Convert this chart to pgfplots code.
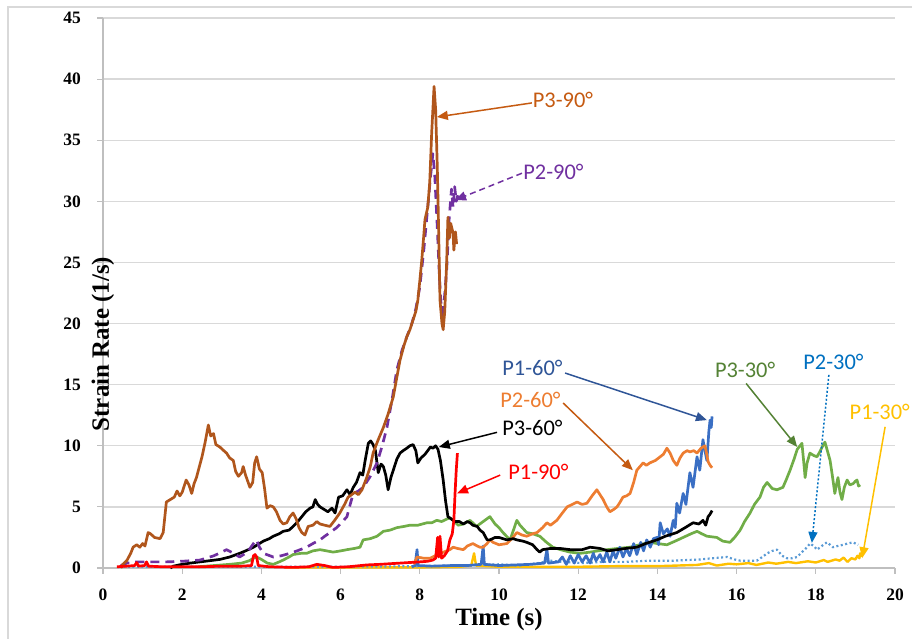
\documentclass[border=0pt]{standalone}
\usepackage{pgfplots}
\pgfplotsset{compat=1.18}
\usepackage{fontspec}
\setmainfont{Liberation Serif}
\newfontfamily\annfont{Carlito}
\usetikzlibrary{arrows.meta}
\definecolor{gridgray}{HTML}{D9D9D9}
\definecolor{axisgray}{HTML}{BFBFBF}
\definecolor{cbrown}{HTML}{B0561C}
\definecolor{cbrownt}{HTML}{C55A11}
\definecolor{cpurple}{HTML}{7030A0}
\definecolor{corange}{HTML}{ED7D31}
\definecolor{cblue}{HTML}{3A6FC4}
\definecolor{cbluet}{HTML}{2F5597}
\definecolor{cred}{HTML}{FF0000}
\definecolor{cgreen}{HTML}{70AD47}
\definecolor{cgreent}{HTML}{548235}
\definecolor{clblue}{HTML}{5B9BD5}
\definecolor{cblue2}{HTML}{0070C0}
\definecolor{cgold}{HTML}{FFC000}
\begin{document}
\begin{tikzpicture}[x=1bp,y=1bp]
\useasboundingbox (0,0) rectangle (912,639);
\draw[gridgray, line width=1.2bp] (8,-20) rectangle (940,632);
\begin{axis}[
  at={(103bp,71bp)}, anchor=south west,
  scale only axis, width=792bp, height=550bp,
  xmin=0, xmax=20, ymin=0, ymax=45,
  xtick={0,2,...,20}, ytick={0,5,...,45},
  axis x line*=bottom, axis y line*=left,
  axis line style={draw=axisgray, line width=1.3bp},
  ymajorgrids, grid style={draw=gridgray, line width=1.3bp},
  tick align=outside, major tick length=6bp,
  tick style={draw=axisgray, line width=1.2bp},
  /pgf/number format/assume math mode=true,
  ticklabel style={font=\bfseries\fontsize{17.5}{17.5}\selectfont, inner sep=0pt},
  xticklabel style={anchor=north, yshift=-15bp},
  yticklabel style={anchor=east, xshift=-16bp},
  xlabel={Time (s)}, ylabel={Strain Rate (1/s)},
  label style={font=\bfseries\fontsize{25}{25}\selectfont, inner sep=0pt},
  xlabel style={at={(axis description cs:0.5,0)}, anchor=center, yshift=-52bp},
  ylabel style={at={(axis description cs:0,0.5)}, anchor=center, rotate=0, xshift=-51bp},
  clip=false,
  every axis plot/.append style={line width=2.7bp, line join=round, mark=none},
]
% P1-30 (gold)
\addplot[cgold, line width=2.4bp] coordinates {(4.6,0.05) (6,0.05) (8,0.05) (9.0,0.1) (9.3,0.2) (9.37,1.2) (9.42,0.2) (10,0.1) (11,0.1) (12,0.1) (13,0.15) (14,0.15) (14.5,0.2) (15.0,0.25) (15.3,0.4) (15.5,0.2) (15.8,0.35) (16,0.3) (16.3,0.4) (16.5,0.25) (16.8,0.45) (17,0.35) (17.3,0.5) (17.5,0.4) (17.8,0.55) (18,0.45) (18.2,0.65) (18.3,0.5) (18.5,0.7) (18.6,0.6) (18.7,0.85) (18.8,0.5) (18.9,0.8) (19.0,0.7) (19.05,1.0) (19.1,0.8) (19.12,1.2) (19.15,0.9)};
% P2-30 (dotted light blue)
\addplot[clblue, line width=2.2bp, dash pattern=on 2bp off 2.5bp] coordinates {(0.4,0.1) (2,0.1) (4,0.1) (6,0.1) (8,0.15) (9,0.2) (10,0.3) (10.5,0.2) (11,0.4) (11.29,0.6) (11.6,0.5) (12.1,0.4) (12.6,0.5) (13.2,0.5) (13.81,0.6) (14.4,0.6) (15.08,0.7) (15.4,0.8) (15.76,0.9) (15.95,0.7) (16.09,0.6) (16.51,0.6) (16.65,0.9) (16.77,1.2) (16.9,1.4) (17.02,1.5) (17.15,1.0) (17.27,0.8) (17.4,0.8) (17.53,0.9) (17.65,1.3) (17.78,1.7) (17.85,2.0) (17.95,1.8) (18.03,1.5) (18.15,1.8) (18.28,2.1) (18.36,1.9) (18.43,1.7) (18.55,1.8) (18.69,1.9) (18.8,2.0) (18.94,2.1) (19.0,2.0) (19.07,1.9)};
% P3-30 (green)
\addplot[cgreen] coordinates {(2.4,0.1) (2.8,0.2) (3.2,0.3) (3.5,0.4) (3.7,0.6) (3.8,0.8) (3.88,0.9) (4.0,0.7) (4.15,0.4) (4.3,0.3) (4.45,0.5) (4.55,0.65) (4.7,0.9) (4.8,1.1) (5.0,1.2) (5.14,1.2) (5.3,1.4) (5.48,1.5) (5.65,1.4) (5.81,1.3) (6.0,1.4) (6.16,1.5) (6.35,1.6) (6.49,1.7) (6.57,2.3) (6.75,2.4) (6.92,2.6) (7.08,3.0) (7.25,3.1) (7.42,3.3) (7.6,3.4) (7.75,3.5) (7.95,3.5) (8.18,3.7) (8.3,3.7) (8.43,3.9) (8.55,3.8) (8.68,4.0) (8.76,4.1) (8.84,3.9) (8.97,3.5) (9.1,3.6) (9.27,3.9) (9.43,3.4) (9.6,3.8) (9.77,4.2) (9.9,3.6) (10.0,3.3) (10.1,2.9) (10.28,2.3) (10.45,3.9) (10.53,3.5) (10.7,2.9) (10.85,2.8) (11.03,2.6) (11.2,2.1) (11.36,1.7) (11.55,1.5) (11.79,1.3) (12.05,1.2) (12.3,1.3) (12.5,1.4) (12.73,1.5) (13.0,1.6) (13.31,1.7) (13.55,1.9) (13.81,2.1) (14.0,2.0) (14.24,1.9) (14.45,2.2) (14.65,2.5) (14.85,2.8) (15.0,3.0) (15.12,2.8) (15.25,2.6) (15.5,2.5) (15.65,2.2) (15.83,2.1) (15.95,2.5) (16.09,3.1) (16.2,3.8) (16.34,4.5) (16.45,5.2) (16.59,5.8) (16.68,6.6) (16.77,7.0) (16.9,6.5) (17.02,6.4) (17.17,6.6) (17.25,7.2) (17.35,8.0) (17.45,8.9) (17.53,9.7) (17.6,10.0) (17.65,10.2) (17.7,8.5) (17.73,7.4) (17.78,8.6) (17.85,9.4) (17.95,9.2) (18.03,9.1) (18.1,9.5) (18.16,9.9) (18.23,10.3) (18.3,9.5) (18.36,8.8) (18.42,7.5) (18.48,6.1) (18.52,6.8) (18.56,7.4) (18.61,6.2) (18.66,5.6) (18.72,6.6) (18.79,7.2) (18.86,6.8) (18.94,6.9) (19.0,7.1) (19.04,7.2) (19.08,6.7) (19.12,6.8)};
% P1-60 (blue)
\addplot[cblue] coordinates {(7.8,0.1) (7.88,0.2) (7.93,1.5) (7.96,0.2) (8.3,0.15) (8.8,0.2) (9.2,0.2) (9.55,0.3) (9.6,1.8) (9.63,0.3) (10.0,0.2) (10.4,0.25) (10.8,0.3) (11.15,0.4) (11.21,1.5) (11.25,0.4) (11.5,0.5) (11.6,0.9) (11.7,0.3) (11.8,1.0) (11.9,0.4) (12.0,1.1) (12.1,0.5) (12.2,1.0) (12.3,0.4) (12.38,1.2) (12.45,0.6) (12.55,1.1) (12.63,0.5) (12.72,1.3) (12.8,0.5) (12.88,1.4) (12.95,0.8) (13.05,1.7) (13.13,0.9) (13.22,1.6) (13.3,1.0) (13.4,2.0) (13.48,1.1) (13.58,2.1) (13.65,1.4) (13.73,2.3) (13.82,1.7) (13.9,2.4) (13.99,2.5) (14.03,1.9) (14.07,3.7) (14.15,2.8) (14.25,3.2) (14.32,2.6) (14.4,3.9) (14.45,3.3) (14.49,5.3) (14.56,4.5) (14.65,6.1) (14.72,5.2) (14.82,7.8) (14.9,6.6) (15.0,9.1) (15.07,8.0) (15.15,10.5) (15.2,9.6) (15.25,8.8) (15.3,11.2) (15.33,12.1) (15.36,11.5) (15.38,12.4)};
% P2-60 (orange)
\addplot[corange] coordinates {(7.85,0.3) (7.93,0.9) (8.1,0.8) (8.26,0.8) (8.45,1.1) (8.6,1.3) (8.76,1.5) (8.84,1.7) (8.95,1.6) (9.1,1.5) (9.2,1.8) (9.34,2.0) (9.45,1.8) (9.52,1.7) (9.6,1.7) (9.7,2.0) (9.77,2.3) (9.85,2.1) (10.0,1.9) (10.2,2.0) (10.35,2.5) (10.45,2.9) (10.58,2.7) (10.7,2.6) (10.85,2.8) (10.96,2.9) (11.1,3.3) (11.21,3.7) (11.3,3.5) (11.46,3.9) (11.6,4.5) (11.72,5.0) (11.85,5.2) (11.97,5.4) (12.1,5.2) (12.22,5.3) (12.35,5.9) (12.47,6.4) (12.55,6.0) (12.63,5.6) (12.72,5.0) (12.8,4.6) (12.9,4.8) (12.98,5.0) (13.06,5.4) (13.13,5.8) (13.22,5.9) (13.31,6.1) (13.4,7.0) (13.48,8.0) (13.56,8.3) (13.64,8.6) (13.72,8.4) (13.81,8.6) (13.95,8.8) (14.07,9.1) (14.15,9.3) (14.24,9.8) (14.32,9.4) (14.4,8.8) (14.49,8.4) (14.57,9.0) (14.65,9.4) (14.75,9.6) (14.82,9.5) (14.92,9.6) (15.0,9.4) (15.1,9.8) (15.2,10.0) (15.24,9.4) (15.28,8.7) (15.33,8.4) (15.38,8.2)};
% P3-60 (black)
\addplot[black] coordinates {(1.7,0) (1.77,0.15) (2.0,0.3) (2.2,0.4) (2.45,0.5) (2.7,0.6) (2.95,0.7) (3.2,0.9) (3.45,1.2) (3.6,1.4) (3.8,1.7) (3.95,2.0) (4.05,2.2) (4.2,2.4) (4.3,2.6) (4.45,2.8) (4.55,3.0) (4.7,3.1) (4.8,3.4) (4.92,3.8) (5.02,4.2) (5.12,4.6) (5.23,4.9) (5.3,5.0) (5.36,5.6) (5.42,5.2) (5.48,5.0) (5.58,4.8) (5.68,4.6) (5.78,4.9) (5.86,4.5) (5.95,5.8) (6.05,5.9) (6.16,6.4) (6.24,6.0) (6.32,6.6) (6.4,7.0) (6.49,7.8) (6.56,7.6) (6.62,8.8) (6.7,10.2) (6.76,10.4) (6.82,10.1) (6.88,9.6) (6.95,7.8) (7.02,8.5) (7.08,8.3) (7.14,7.6) (7.2,6.4) (7.27,7.4) (7.33,8.0) (7.42,8.9) (7.5,9.4) (7.58,9.6) (7.67,9.8) (7.75,10.0) (7.83,10.1) (7.9,9.6) (7.95,8.6) (8.03,9.0) (8.13,9.3) (8.2,9.6) (8.27,9.9) (8.33,9.8) (8.4,10.0) (8.46,9.7) (8.52,8.8) (8.59,7.2) (8.65,5.5) (8.71,4.2) (8.8,4.0) (8.89,3.8) (9.0,3.8) (9.1,3.6) (9.2,3.8) (9.27,3.7) (9.34,3.5) (9.45,3.4) (9.52,3.1) (9.6,2.9) (9.7,2.3) (9.77,2.3) (9.9,2.5) (10.0,2.5) (10.2,2.3) (10.36,2.4) (10.45,2.3) (10.6,2.2) (10.7,2.1) (10.85,1.9) (10.96,1.5) (11.03,1.3) (11.1,1.5) (11.3,1.6) (11.54,1.6) (11.8,1.5) (12.1,1.5) (12.3,1.7) (12.55,1.6) (12.75,1.4) (12.98,1.5) (13.2,1.6) (13.48,1.7) (13.7,2.0) (13.99,2.3) (14.2,2.6) (14.49,2.9) (14.7,3.3) (14.9,3.7) (15.05,3.6) (15.15,3.9) (15.22,3.5) (15.28,4.2) (15.33,4.4) (15.38,4.7)};
% P2-90 (purple dashed)
\addplot[cpurple, dash pattern=on 9bp off 6bp] coordinates {(0.45,0.2) (0.6,0.4) (0.85,0.5) (1.2,0.5) (1.6,0.5) (2.0,0.55) (2.45,0.65) (2.8,1.0) (3.12,1.5) (3.3,1.2) (3.45,0.9) (3.65,1.3) (3.8,2.0) (3.88,2.3) (3.95,1.7) (4.05,1.2) (4.3,0.9) (4.5,1.0) (4.72,1.2) (4.9,1.4) (5.14,1.7) (5.3,2.0) (5.48,2.3) (5.6,2.6) (5.73,2.9) (5.9,3.3) (6.05,3.8) (6.16,4.2) (6.25,5.3) (6.32,6.1) (6.45,6.3) (6.57,6.6) (6.75,7.5) (6.92,8.6) (7.05,10.0) (7.17,11.5) (7.3,13.8) (7.42,16.2) (7.55,17.8) (7.67,18.9) (7.8,20.0) (7.9,21.2) (8.0,23.0) (8.1,26.0) (8.2,29.5) (8.27,32.0) (8.33,33.9) (8.38,32.0) (8.44,28.0) (8.5,23.5) (8.56,20.3) (8.62,22.0) (8.68,24.5) (8.74,28.5) (8.8,31.0) (8.84,29.5) (8.88,31.2) (8.92,30.0) (8.96,30.5)};
% P3-90 (brown)
\addplot[cbrown] coordinates {(0.45,0) (0.5,0.3) (0.6,0.6) (0.7,1.2) (0.76,1.7) (0.85,1.9) (0.93,1.7) (1.0,2.0) (1.06,1.8) (1.14,2.9) (1.2,2.8) (1.3,2.5) (1.44,2.4) (1.52,2.9) (1.6,5.4) (1.7,5.6) (1.8,5.8) (1.87,6.3) (1.94,5.9) (2.0,6.2) (2.1,7.2) (2.17,6.8) (2.24,6.1) (2.3,6.9) (2.36,7.4) (2.45,8.5) (2.5,9.1) (2.58,10.3) (2.66,11.7) (2.72,10.8) (2.79,11.0) (2.85,10.1) (2.95,9.9) (3.05,9.6) (3.12,9.4) (3.2,9.0) (3.29,8.8) (3.35,7.9) (3.42,7.5) (3.5,7.8) (3.54,8.3) (3.6,7.6) (3.71,6.6) (3.78,7.0) (3.83,8.6) (3.88,9.1) (3.95,8.1) (4.02,7.8) (4.08,6.5) (4.14,4.9) (4.22,5.1) (4.3,5.0) (4.38,4.6) (4.47,3.9) (4.55,3.6) (4.64,3.7) (4.72,4.2) (4.8,4.5) (4.88,4.0) (4.95,3.3) (5.02,2.9) (5.1,2.7) (5.18,3.4) (5.3,3.5) (5.4,3.8) (5.48,3.6) (5.6,3.5) (5.73,3.4) (5.85,3.9) (5.98,4.5) (6.1,5.2) (6.19,5.8) (6.28,6.0) (6.36,6.2) (6.45,6.0) (6.54,6.4) (6.66,7.4) (6.75,8.3) (6.82,9.4) (6.95,10.5) (7.08,11.5) (7.2,12.6) (7.33,14.0) (7.42,15.6) (7.5,17.0) (7.6,18.2) (7.67,18.9) (7.75,19.5) (7.83,20.3) (7.9,21.0) (7.95,21.9) (8.0,23.5) (8.05,25.2) (8.1,27.2) (8.13,28.5) (8.2,29.5) (8.25,31.5) (8.3,35.6) (8.36,39.4) (8.4,37.5) (8.44,33.0) (8.46,30.1) (8.51,21.9) (8.56,20.0) (8.59,19.5) (8.63,21.0) (8.66,23.5) (8.68,25.2) (8.71,28.7) (8.75,27.0) (8.78,28.2) (8.84,27.4) (8.86,26.0) (8.9,27.5) (8.93,26.5)};
% P1-90 (red)
\addplot[cred] coordinates {(0.35,0.1) (0.6,0.15) (0.8,0.2) (0.85,0.45) (0.9,0.15) (1.05,0.2) (1.1,0.5) (1.15,0.15) (1.5,0.1) (2.0,0.1) (2.5,0.1) (3.0,0.15) (3.5,0.15) (3.75,0.2) (3.8,1.0) (3.84,1.1) (3.88,0.9) (3.92,0.2) (4.2,0.1) (4.8,0.05) (5.2,0.1) (5.4,0.3) (5.6,0.2) (5.8,0.05) (6.2,0.1) (6.66,0.25) (7.0,0.3) (7.5,0.4) (8.0,0.5) (8.2,0.55) (8.33,0.65) (8.4,0.8) (8.45,2.5) (8.48,0.9) (8.51,2.6) (8.55,0.8) (8.62,1.0) (8.7,1.4) (8.76,2.3) (8.82,2.8) (8.86,3.9) (8.89,6.1) (8.92,8.0) (8.95,9.4)};
% annotations
\tikzset{ann/.style={line width=1.5bp, -{Triangle[length=11bp,width=9bp]}}, lab/.style={anchor=west, inner sep=0pt, font=\annfont\fontsize{22.5}{22.5}\selectfont}}
\draw[ann, cbrownt] (axis cs:10.83,38.05) -- (axis cs:8.43,36.9);
\node[lab, cbrownt] at (axis cs:10.85,38.3) {P3-90°};
\draw[ann, cpurple, dash pattern=on 6bp off 4bp] (axis cs:10.58,32.3) -- (axis cs:8.89,30.1);
\node[lab, cpurple] at (axis cs:10.61,32.4) {P2-90°};
\draw[ann, cbluet] (axis cs:11.67,15.95) -- (axis cs:15.25,12.1);
\node[lab, cbluet] at (axis cs:10.08,16.4) {P1-60°};
\draw[ann, cbrownt] (axis cs:11.62,13.5) -- (axis cs:13.38,8.0);
\node[lab, corange] at (axis cs:10.03,13.75) {P2-60°};
\draw[ann, black] (axis cs:9.95,11.1) -- (axis cs:8.48,9.9);
\node[lab, black] at (axis cs:10.08,11.45) {P3-60°};
\draw[ann, cred] (axis cs:10.03,7.6) -- (axis cs:8.94,6.1);
\node[lab, cred] at (axis cs:10.23,7.85) {P1-90°};
\draw[ann, cgreent] (axis cs:16.24,15.1) -- (axis cs:17.53,9.9);
\node[lab, cgreent] at (axis cs:15.45,16.2) {P3-30°};
\draw[ann, cblue2, dash pattern=on 2bp off 2bp] (axis cs:18.33,15.8) -- (axis cs:17.9,2.05);
\node[lab, cblue2] at (axis cs:17.68,16.85) {P2-30°};
\draw[ann, cgold] (axis cs:19.75,11.55) -- (axis cs:19.17,0.8);
\node[lab, cgold] at (axis cs:18.85,12.8) {P1-30°};
\end{axis}
\end{tikzpicture}
\end{document}
